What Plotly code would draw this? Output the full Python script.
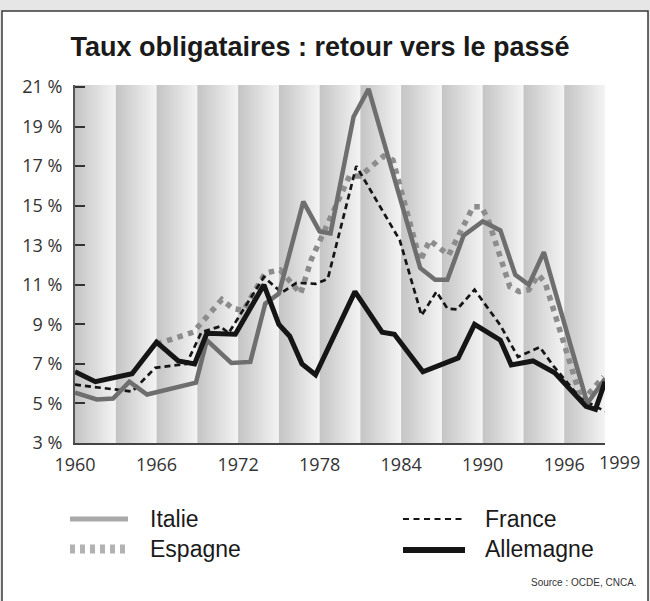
import plotly.graph_objects as go

# ---------------- data ----------------
annees_italie = [1960.0, 1961.6, 1962.8, 1964.0, 1965.3, 1968.9, 1969.7, 1971.5, 1972.9, 1974.0,
                 1975.0, 1976.8, 1978.0, 1978.8, 1980.5, 1981.6, 1985.4, 1986.5, 1987.4, 1988.6,
                 1990.0, 1991.3, 1992.4, 1993.4, 1994.5, 1997.7, 1999.0]
taux_italie = [5.55, 5.2, 5.25, 6.1, 5.45, 6.05, 8.2, 7.05, 7.1, 10.05,
               10.55, 15.2, 13.7, 13.6, 19.5, 20.9, 11.85, 11.25, 11.25, 13.5,
               14.2, 13.75, 11.5, 11.0, 12.65, 5.0, 6.25]

annees_espagne = [1966.0, 1968.7, 1970.8, 1971.6, 1972.4, 1974.0, 1975.1, 1976.6, 1977.4, 1978.4,
                  1979.5, 1980.2, 1981.0, 1982.7, 1983.4, 1984.0, 1985.4, 1986.1, 1987.5, 1988.6,
                  1989.3, 1989.9, 1990.4, 1992.0, 1992.7, 1993.4, 1994.1, 1994.6, 1997.3, 1998.9]
taux_espagne = [8.0, 8.6, 10.25, 9.8, 9.7, 11.6, 11.75, 10.55, 12.3, 13.8,
                15.3, 16.5, 16.5, 17.5, 17.3, 15.8, 12.2, 13.25, 12.5, 14.0,
                14.95, 14.95, 14.3, 10.9, 10.65, 10.75, 11.5, 11.1, 5.1, 6.35]

annees_france = [1960.0, 1962.8, 1964.2, 1965.9, 1968.2, 1969.3, 1970.7, 1971.3, 1973.9, 1975.2,
                 1976.3, 1977.7, 1978.6, 1980.7, 1983.9, 1985.5, 1986.6, 1987.4, 1988.1, 1989.4,
                 1991.3, 1992.6, 1994.2, 1995.2, 1997.2, 1999.0]
taux_france = [5.95, 5.7, 5.6, 6.8, 7.0, 8.6, 8.9, 8.55, 11.4, 10.6,
               11.1, 11.05, 11.3, 17.0, 13.25, 9.45, 10.65, 9.8, 9.75, 10.75,
               8.95, 7.35, 7.85, 6.9, 5.25, 4.6]

annees_allemagne = [1960.0, 1961.5, 1964.2, 1966.0, 1967.6, 1968.8, 1969.7, 1971.8, 1973.9, 1975.0,
                    1975.8, 1976.7, 1977.7, 1980.6, 1982.6, 1983.5, 1985.6, 1988.2, 1989.4, 1991.3,
                    1992.1, 1993.7, 1995.3, 1997.0, 1997.6, 1998.3, 1999.0]
taux_allemagne = [6.6, 6.1, 6.5, 8.1, 7.15, 7.0, 8.55, 8.5, 11.0, 9.0,
                  8.4, 7.0, 6.45, 10.65, 8.6, 8.5, 6.6, 7.3, 9.0, 8.2,
                  6.95, 7.15, 6.55, 5.35, 4.85, 4.7, 6.1]

y_ticks = [3, 5, 7, 9, 11, 13, 15, 17, 19, 21]
y_labels = [f"{v} %" for v in y_ticks]
x_ticks = [1960, 1966, 1972, 1978, 1984, 1990, 1996]
x_labels = [str(v) for v in x_ticks]
x_last = 1999
bandes = list(range(1960, 1999, 3))   # starts of the 3-year shaded bands

titre = "Taux obligataires : retour vers le passé"
source = "Source : OCDE, CNCA."

# ---------------- figure ----------------
W, H = 650, 601
L, R, T, B = 75, 45, 85, 158
pw, ph = W - L - R, H - T - B

def px(x):  # pixel -> paper x
    return (x - L) / pw

def py(y):  # pixel -> paper y
    return (H - B - y) / ph

SANS = "Liberation Sans, Arial, sans-serif"
HUMAN = "Open Sans, Noto Sans, sans-serif"

fig = go.Figure()

# shaded bands with horizontal gradient
for b0 in bandes:
    b1 = b0 + 3
    fig.add_trace(go.Scatter(
        x=[b0, b1, b1, b0, b0], y=[3, 3, 21.1, 21.1, 3],
        mode="lines", line=dict(width=0), fill="toself",
        fillgradient=dict(type="horizontal",
                          colorscale=[[0, "#c4c4c4"], [1, "#f4f4f4"]]),
        hoverinfo="skip", showlegend=False))

fig.add_trace(go.Scatter(x=annees_espagne, y=taux_espagne, mode="lines", name="Espagne",
                         line=dict(color="#8c8c8c", width=5.5, dash="dot"), showlegend=False))
fig.add_trace(go.Scatter(x=annees_france, y=taux_france, mode="lines", name="France",
                         line=dict(color="#151515", width=2.7, dash="6px,4px"), showlegend=False))
fig.add_trace(go.Scatter(x=annees_italie, y=taux_italie, mode="lines", name="Italie",
                         line=dict(color="#6e6e6e", width=4.5), showlegend=False))
fig.add_trace(go.Scatter(x=annees_allemagne, y=taux_allemagne, mode="lines", name="Allemagne",
                         line=dict(color="#151515", width=5), showlegend=False))

shapes = [
    # white panel with border
    dict(type="rect", xref="paper", yref="paper", layer="below",
         x0=px(2), x1=px(648), y0=py(610), y1=py(11),
         fillcolor="white", line=dict(color="#3a3a3a", width=1.5)),
    # legend samples
    dict(type="line", xref="paper", yref="paper", x0=px(70), x1=px(128), y0=py(519), y1=py(519),
         line=dict(color="#a9a9a9", width=5)),
    dict(type="line", xref="paper", yref="paper", x0=px(70), x1=px(128), y0=py(549), y1=py(549),
         line=dict(color="#b2b2b2", width=9, dash="5px,5px")),
    dict(type="line", xref="paper", yref="paper", x0=px(403), x1=px(465), y0=py(519), y1=py(519),
         line=dict(color="#151515", width=2.2, dash="6px,4.5px")),
    dict(type="line", xref="paper", yref="paper", x0=px(403), x1=px(465), y0=py(550), y1=py(550),
         line=dict(color="#151515", width=6)),
]

leg_font = dict(family=SANS, size=23, color="#1a1a1a")
annotations = [
    dict(text="1999", x=x_last, y=0, xref="x", yref="paper", xshift=14, yshift=-5,
         showarrow=False, yanchor="top", xanchor="center",
         font=dict(family=HUMAN, size=18, color="#333333")),
    dict(text="Italie", x=px(148), y=py(519), xref="paper", yref="paper", showarrow=False,
         xanchor="left", yanchor="middle", font=leg_font),
    dict(text="Espagne", x=px(148), y=py(549), xref="paper", yref="paper", showarrow=False,
         xanchor="left", yanchor="middle", font=leg_font),
    dict(text="France", x=px(483), y=py(519), xref="paper", yref="paper", showarrow=False,
         xanchor="left", yanchor="middle", font=leg_font),
    dict(text="Allemagne", x=px(483), y=py(549), xref="paper", yref="paper", showarrow=False,
         xanchor="left", yanchor="middle", font=leg_font),
    dict(text=source, x=px(639), y=py(582), xref="paper", yref="paper", showarrow=False,
         xanchor="right", yanchor="middle", font=dict(family=SANS, size=10, color="#333333")),
]

fig.update_layout(
    width=W, height=H,
    margin=dict(l=L, r=R, t=T, b=B, pad=0),
    paper_bgcolor="#e6e6e6", plot_bgcolor="white",
    title=dict(text=titre, x=320 / W, xref="container", xanchor="center",
               y=1 - 47 / H, yref="container", yanchor="middle",
               font=dict(family=SANS, size=27, color="#1a1a1a", weight="bold")),
    xaxis=dict(range=[1960, 1999], tickvals=x_ticks, ticktext=x_labels,
               showline=True, linecolor="#444444", linewidth=2, ticks="",
               showgrid=False, zeroline=False, ticklabelstandoff=4,
               tickfont=dict(family=HUMAN, size=18, color="#333333")),
    yaxis=dict(range=[3, 21.1], tickvals=y_ticks, ticktext=y_labels,
               showline=True, linecolor="#555555", linewidth=2,
               ticks="inside", ticklen=10, tickwidth=2, tickcolor="#333333",
               showgrid=False, zeroline=False, ticklabelstandoff=7,
               tickfont=dict(family=HUMAN, size=18, color="#333333")),
    shapes=shapes, annotations=annotations, showlegend=False,
)

fig.write_html("out.html", config={"displayModeBar": False},
               post_script="document.body.style.margin='0';document.body.style.padding='0';")
